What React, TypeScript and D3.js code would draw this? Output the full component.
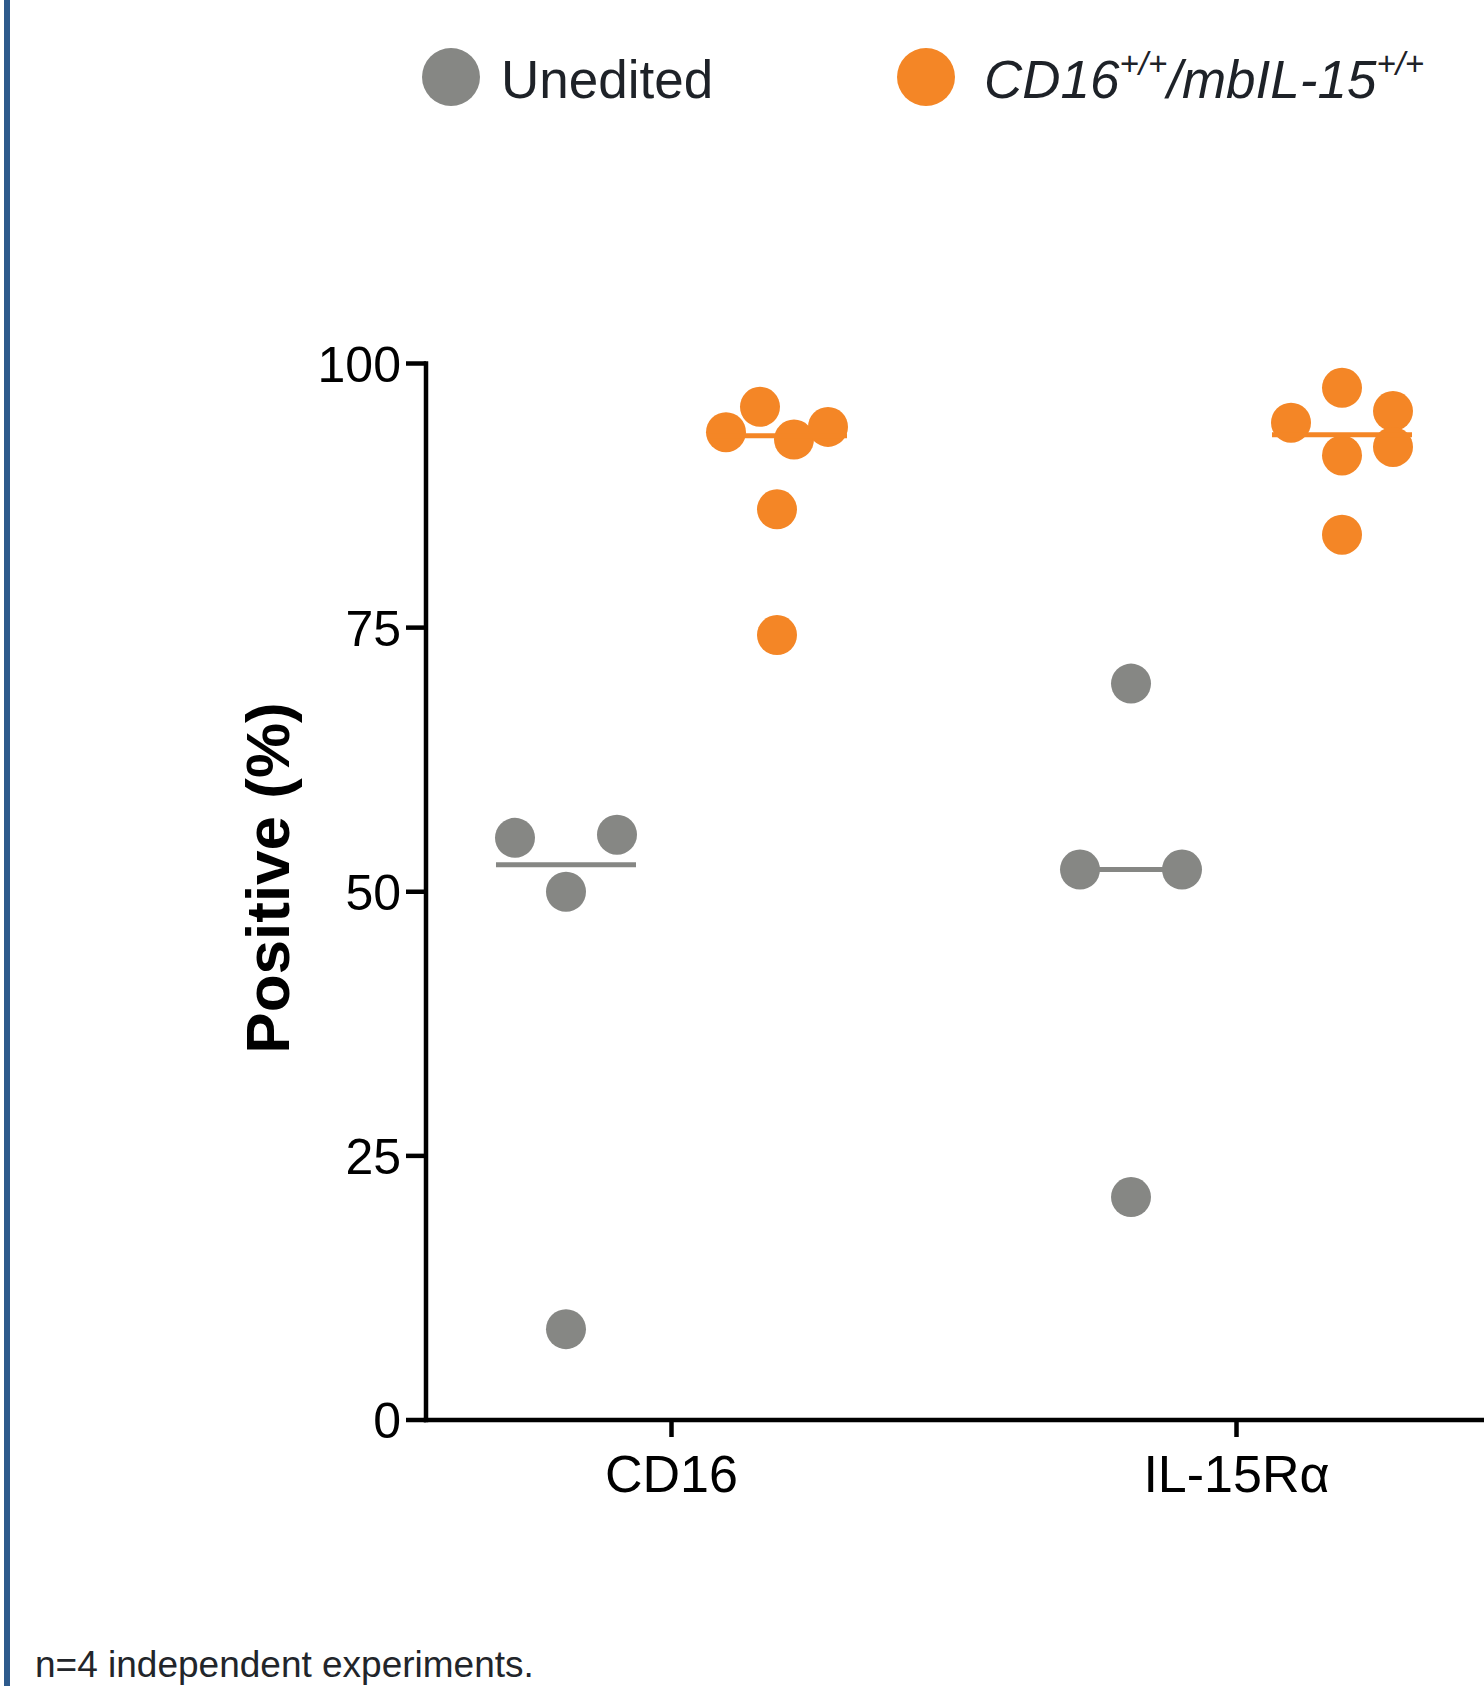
import React from "react";
import * as d3 from "d3";

// ---- data ----
const categories = ["CD16", "IL-15Rα"];
const seriesKeys = ["unedited", "edited"];
const cd16Unedited = [55.1, 50.0, 55.4, 8.6];
const il15Unedited = [69.7, 52.1, 52.1, 21.1];
const cd16Edited = [93.5, 95.9, 92.8, 94.0, 86.2, 74.3];
const il15Edited = [94.4, 97.7, 95.5, 91.3, 92.1, 83.8];
const yTicks = [0, 25, 50, 75, 100];
const footnote = "n=4 independent experiments.";

const COLORS: Record<string, string> = { unedited: "#868784", edited: "#f48626" };
const FONT = "'Liberation Sans', Arial, Helvetica, sans-serif";

const W = 1484;
const H = 1686;
const R = 20; // dot radius
const HALF = 51; // half spread width of a swarm row
const MED_HALF = 70;

type Pt = { v: number; off: number };

// GraphPad-like scatter layout: points grouped in rows, spread across the row,
// shifting to a free slot when they would collide with a previous row.
function layout(values: number[], y: d3.ScaleLinear<number, number>): Pt[] {
  const idx = values.map((_, i) => i).sort((a, b) => values[b] - values[a]);
  const rows: number[][] = [];
  const rowGap = 1.5 * 2 * R * 0.75 + 0.001; // px
  let top = -Infinity;
  idx.forEach((i) => {
    const py = y(values[i]);
    if (rows.length === 0 || py - top > 58.5) {
      rows.push([i]);
      top = py;
    } else rows[rows.length - 1].push(i);
  });
  void rowGap;
  const off = new Array(values.length).fill(0);
  const placed: { x: number; y: number; row: number }[] = [];
  rows.forEach((row, ri) => {
    const members = row.slice().sort((a, b) => a - b);
    const n = members.length;
    members.forEach((m, k) => {
      const pref = n === 1 ? 0 : -1 + (2 * k) / (n - 1);
      const py = y(values[m]);
      const collides = (o: number) =>
        placed.some((p) => p.row !== ri && Math.hypot(p.x - o * HALF, p.y - py) < 34);
      let o = pref;
      if (collides(o)) {
        const cands = [-1, 0, 1].filter((c) => c !== pref).sort((a, b) => Math.abs(a - pref) - Math.abs(b - pref));
        const free = cands.find((c) => !collides(c));
        if (free !== undefined) o = free;
      }
      off[m] = o;
      placed.push({ x: o * HALF, y: py, row: ri });
    });
  });
  return values.map((v, i) => ({ v, off: off[i] * HALF }));
}

export default function App() {
  const x = d3.scalePoint<string>().domain(categories).range([426, 1482]).padding(0.4345);
  const xs = d3.scalePoint<string>().domain(seriesKeys).range([-105.5, 105.5]);
  const y = d3.scaleLinear().domain([0, 100]).range([1420, 363.5]);

  const groups = [
    { cat: categories[0], key: "unedited", values: cd16Unedited },
    { cat: categories[0], key: "edited", values: cd16Edited },
    { cat: categories[1], key: "unedited", values: il15Unedited },
    { cat: categories[1], key: "edited", values: il15Edited },
  ];

  const axisX = x.range()[0];
  const axisY = y(0);

  return (
    <svg
      width={W}
      height={H}
      viewBox={`0 0 ${W} ${H}`}
      style={{ position: "absolute", left: 0, top: 0, background: "#fff" }}
      fontFamily={FONT}
    >
      <rect x={0} y={0} width={W} height={H} fill="#ffffff" />
      {/* left frame bar */}
      <rect x={4} y={0} width={6} height={H} fill="#2d5a8c" />

      {/* legend */}
      <g>
        <circle cx={451} cy={77} r={29} fill={COLORS.unedited} />
        <text x={501} y={98} fontSize={53} fill="#1e2228">Unedited</text>
        <circle cx={926} cy={77} r={29} fill={COLORS.edited} />
        <text x={984} y={98} fontSize={53} fill="#1e2228" fontStyle="italic">
          CD16
          <tspan fontSize={33} dy={-23}>+/+</tspan>
          <tspan dy={23}>/mbIL-15</tspan>
          <tspan fontSize={33} dy={-23}>+/+</tspan>
        </text>
      </g>

      {/* y axis */}
      <line x1={axisX} x2={axisX} y1={y(100) - 2.25} y2={axisY + 2.25} stroke="#000" strokeWidth={4.5} />
      {yTicks.map((t) => (
        <g key={t}>
          <line x1={axisX - 20} x2={axisX} y1={y(t)} y2={y(t)} stroke="#000" strokeWidth={4.5} />
          <text x={401} y={y(t)} dy="0.36em" textAnchor="end" fontSize={50} fill="#000">
            {t}
          </text>
        </g>
      ))}
      <text
        transform={`translate(267, 878) rotate(-90)`}
        textAnchor="middle"
        dominantBaseline="central"
        fontSize={62}
        fontWeight="bold"
        fill="#000"
      >
        Positive (%)
      </text>

      {/* x axis */}
      <line x1={axisX - 2.25} x2={W} y1={axisY} y2={axisY} stroke="#000" strokeWidth={4.5} />
      {categories.map((c) => (
        <g key={c}>
          <line x1={x(c)!} x2={x(c)!} y1={axisY} y2={axisY + 17} stroke="#000" strokeWidth={4.5} />
          <text x={x(c)!} y={1492} textAnchor="middle" fontSize={52} fill="#000">
            {c}
          </text>
        </g>
      ))}

      {/* points and medians */}
      {groups.map((g) => {
        const cx = x(g.cat)! + xs(g.key)!;
        const pts = layout(g.values, y);
        const med = d3.median(g.values)!;
        return (
          <g key={g.cat + g.key}>
            {pts.map((p, i) => (
              <circle key={i} cx={cx + p.off} cy={y(p.v)} r={R} fill={COLORS[g.key]} />
            ))}
            <line
              x1={cx - MED_HALF}
              x2={cx + MED_HALF}
              y1={y(med)}
              y2={y(med)}
              stroke={COLORS[g.key]}
              strokeWidth={5}
            />
          </g>
        );
      })}

      {/* footnote */}
      <text x={35} y={1677} fontSize={37} fill="#22252a">
        {footnote}
      </text>
    </svg>
  );
}
